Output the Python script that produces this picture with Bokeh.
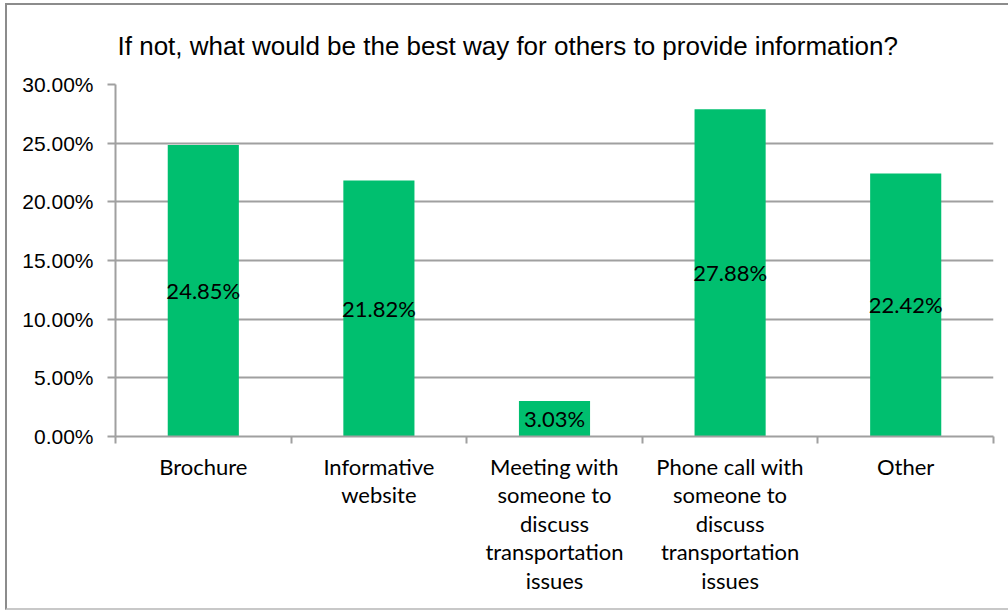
from bokeh.plotting import figure
from bokeh.models import ColumnDataSource, FixedTicker, PrintfTickFormatter, Range1d, InlineStyleSheet
from bokeh.core.properties import value
from bokeh.embed import file_html
from bokeh.resources import INLINE

title = "If not, what would be the best way for others to provide information?"
categories = [
    "Brochure",
    "Informative\nwebsite",
    "Meeting with\nsomeone to\ndiscuss\ntransportation\nissues",
    "Phone call with\nsomeone to\ndiscuss\ntransportation\nissues",
    "Other",
]
values = [24.85, 21.82, 3.03, 27.88, 22.42]
y_ticks = [0, 5, 10, 15, 20, 25, 30]

xs = [i + 0.5 for i in range(len(categories))]
src = ColumnDataSource(dict(
    x=xs,
    top=values,
    mid=[v / 2 for v in values],
    lbl=[f"{v:.2f}%" for v in values],
))

p = figure(width=1008, height=611, output_backend="svg", toolbar_location=None,
           x_range=Range1d(0, len(categories)), y_range=Range1d(0, 30),
           min_border_left=115, min_border_right=15, min_border_top=84,
           min_border_bottom=175, title=title)
p.outline_line_color = None
p.background_fill_color = "white"
p.border_fill_color = "white"

# outer chart border (left, top, bottom)
p.stylesheets = [InlineStyleSheet(css="""
:host::after {
  content: "";
  position: absolute;
  left: 5px; top: 3px;
  width: 1003px; height: 607px;
  box-sizing: border-box;
  border-left: 2px solid #8C8C8C;
  border-top: 2px solid #8C8C8C;
  border-bottom: 2px solid #C8C8C8;
  pointer-events: none;
  z-index: 10;
}
""")]

p.title.text_font = "Liberation Sans"
p.title.text_font_size = "26px"
p.title.text_font_style = "normal"
p.title.text_color = "#000000"
p.title.align = "left"
p.title.vertical_align = "bottom"
p.title.offset = 2
p.title.standoff = 47

p.vbar(x="x", top="top", bottom=0, width=0.405, source=src,
       fill_color="#00BF6F", line_color=None)
p.text(x="x", y="mid", text="lbl", source=src, text_align="center",
       text_baseline="middle", text_font=value("Lato"), text_font_size="22px",
       text_color="#000000")

# y axis
p.yaxis.ticker = FixedTicker(ticks=y_ticks)
p.yaxis.formatter = PrintfTickFormatter(format="%.2f%%")
p.yaxis.major_label_text_font = "Liberation Sans"
p.yaxis.major_label_text_font_size = "21px"
p.yaxis.major_label_text_color = "#000000"
p.yaxis.major_label_standoff = 14
p.yaxis.axis_line_color = "#A0A0A0"
p.yaxis.axis_line_width = 2
p.yaxis.major_tick_line_color = "#A0A0A0"
p.yaxis.major_tick_line_width = 2
p.yaxis.major_tick_out = 8
p.yaxis.major_tick_in = 0
p.yaxis.minor_tick_line_color = None

p.ygrid.grid_line_color = "#A0A0A0"
p.ygrid.grid_line_width = 2
p.xgrid.grid_line_color = None

# x axis
p.xaxis.ticker = FixedTicker(ticks=xs, minor_ticks=list(range(len(categories) + 1)))
p.xaxis.major_label_overrides = {x: c for x, c in zip(xs, categories)}
p.xaxis.major_label_text_font = "Lato"
p.xaxis.major_label_text_font_size = "22px"
p.xaxis.major_label_text_color = "#000000"
p.xaxis.major_label_text_line_height = 1.06
p.xaxis.major_label_standoff = 9
p.xaxis.major_tick_line_color = None
p.xaxis.major_tick_out = 0
p.xaxis.major_tick_in = 0
p.xaxis.minor_tick_line_color = "#A0A0A0"
p.xaxis.minor_tick_line_width = 2
p.xaxis.minor_tick_out = 7
p.xaxis.minor_tick_in = 0
p.xaxis.axis_line_color = "#A0A0A0"
p.xaxis.axis_line_width = 2

open("out.html", "w").write(file_html(p, INLINE))
